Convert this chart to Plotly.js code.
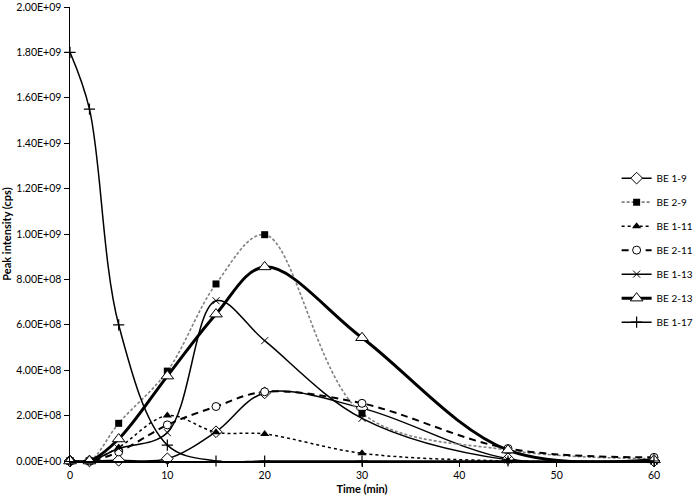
<!DOCTYPE html>
<html>
<head>
<meta charset="utf-8">
<script src="https://cdn.plot.ly/plotly-3.0.1.min.js"></script>
<style>html,body{margin:0;padding:0;background:#fff;}#chart{width:697px;height:501px;}</style>
</head>
<body>
<div id="chart"></div>
<script>
// Data (time in minutes, peak intensity in cps)
var time = [0, 2, 5, 10, 15, 20, 30, 45, 60];
var be1_9  = [0, 0, 3e6, 1.0e7, 1.29e8, 3.0e8, 2.33e8, 1.0e7, 0];
var be2_9  = [0, 0, 1.66e8, 3.96e8, 7.8e8, 9.97e8, 2.1e8, 4.8e7, 1.0e7];
var be1_11 = [0, 0, 6.0e7, 2.0e8, 1.27e8, 1.19e8, 3.4e7, 0, 0];
var be2_11 = [0, 0, 4.0e7, 1.59e8, 2.4e8, 3.05e8, 2.54e8, 5.5e7, 1.6e7];
var be1_13 = [0, 0, 5.5e7, 1.25e8, 7.06e8, 5.3e8, 1.88e8, 5e6, 0];
var be2_13 = [0, 0, 9.7e7, 3.74e8, 6.47e8, 8.55e8, 5.43e8, 4.8e7, 5e6];
var be1_17 = [1.8e9, 1.55e9, 6.0e8, 7.0e7, 0, 0, 0, 0, 0];

var seriesNames = ['BE 1-9', 'BE 2-9', 'BE 1-11', 'BE 2-11', 'BE 1-13', 'BE 2-13', 'BE 1-17'];
var yTickValues = [0, 2e8, 4e8, 6e8, 8e8, 1e9, 1.2e9, 1.4e9, 1.6e9, 1.8e9, 2e9];
var yTickLabels = ['0.00E+00', '2.00E+08', '4.00E+08', '6.00E+08', '8.00E+08', '1.00E+09',
                   '1.20E+09', '1.40E+09', '1.60E+09', '1.80E+09', '2.00E+09'];
var xTickValues = [0, 10, 20, 30, 40, 50, 60];

var seriesValues = [be1_9, be2_9, be1_11, be2_11, be1_13, be2_13, be1_17];

var styles = [
  {line: {color: '#000', width: 1.5, dash: 'solid'}, marker: {symbol: 'diamond', size: 9, color: '#fff', line: {color: '#000', width: 1}}},
  {line: {color: '#808080', width: 1.6, dash: '3px,2px'}, marker: {symbol: 'square', size: 7, color: '#000', line: {color: '#000', width: 0}}},
  {line: {color: '#000', width: 1.5, dash: 'dot'}, marker: {symbol: 'triangle-up', size: 8, color: '#000', line: {color: '#000', width: 0}}},
  {line: {color: '#000', width: 2, dash: '7px,5px'}, marker: {symbol: 'circle', size: 8, color: '#fff', line: {color: '#000', width: 1}}},
  {line: {color: '#000', width: 1.5, dash: 'solid'}, marker: {symbol: 'x-thin', size: 7, color: '#000', line: {color: '#000', width: 1}}},
  {line: {color: '#000', width: 3, dash: 'solid'}, marker: {symbol: 'triangle-up', size: 11, color: '#fff', line: {color: '#000', width: 1}}},
  {line: {color: '#000', width: 1.5, dash: 'solid'}, marker: {symbol: 'cross-thin', size: 8, color: '#000', line: {color: '#000', width: 1.2}}}
];

var traces = seriesNames.map(function (name, i) {
  var st = styles[i];
  return {
    x: time,
    y: seriesValues[i],
    name: name,
    type: 'scatter',
    mode: 'lines+markers',
    legendgroup: 'g' + i,
    line: {color: st.line.color, width: st.line.width, dash: st.line.dash, shape: 'spline', smoothing: 1},
    marker: st.marker,
    cliponaxis: false
  };
});

var fontFamily = 'Lato, "Open Sans", "Liberation Sans", sans-serif';

var layout = {
  width: 697,
  height: 501,
  paper_bgcolor: '#fff',
  plot_bgcolor: '#fff',
  margin: {l: 70, r: 43, t: 7, b: 40, autoexpand: false},
  font: {family: fontFamily, size: 10.5, color: '#000'},
  showlegend: true,
  legend: {
    x: 0.936, y: 0.655, xanchor: 'left', yanchor: 'top',
    font: {family: fontFamily, size: 10, color: '#000'},
    bgcolor: 'rgba(0,0,0,0)',
    traceorder: 'grouped',
    tracegroupgap: 5,
    itemwidth: 30
  },
  xaxis: {
    range: [0, 60],
    tickvals: xTickValues,
    ticks: 'outside', ticklen: 4, tickcolor: '#000', tickwidth: 1,
    showline: true, linecolor: '#000', linewidth: 1.5,
    showgrid: false, zeroline: false,
    ticklabeloverflow: 'allow',
    tickfont: {family: fontFamily, size: 10.5, color: '#000'},
    title: {text: 'Time (min)', font: {family: fontFamily, size: 11, color: '#000', weight: 'bold'}, standoff: 5}
  },
  yaxis: {
    range: [0, 2e9],
    tickvals: yTickValues,
    ticktext: yTickLabels,
    ticks: 'outside', ticklen: 5, tickcolor: '#000', tickwidth: 1,
    showline: true, linecolor: '#000', linewidth: 1.5,
    showgrid: false, zeroline: false,
    ticklabeloverflow: 'allow',
    tickfont: {family: fontFamily, size: 10.5, color: '#000'},
    title: {text: 'Peak intensity (cps)', font: {family: fontFamily, size: 11, color: '#000', weight: 'bold'}, standoff: 5}
  }
};

Plotly.newPlot('chart', traces, layout, {displayModeBar: false, staticPlot: true});
</script>
</body>
</html>
